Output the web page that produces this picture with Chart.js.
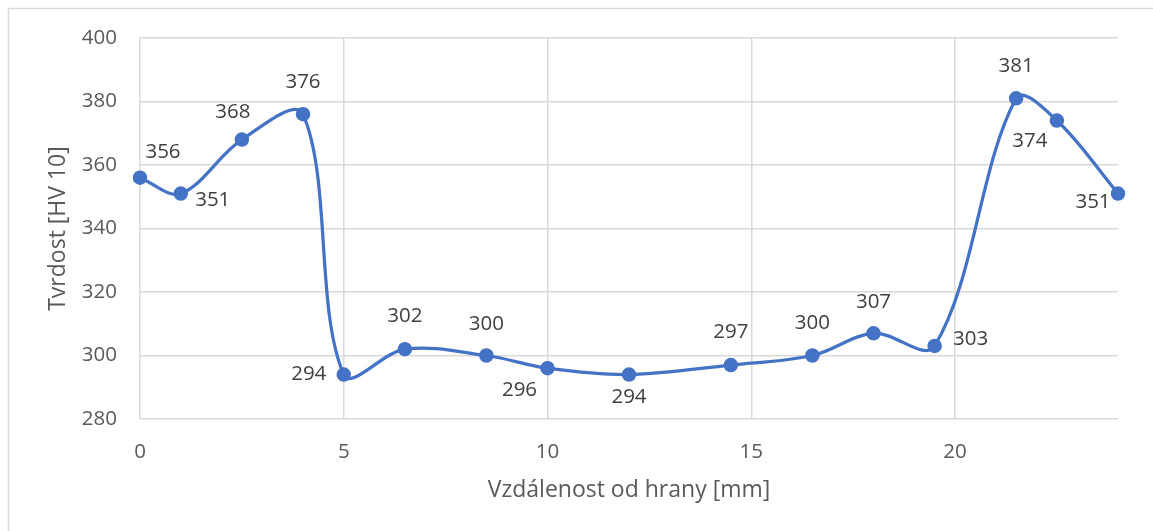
<!DOCTYPE html>
<html>
<head>
<meta charset="utf-8">
<script src="https://cdn.jsdelivr.net/npm/chart.js@4/dist/chart.umd.min.js"></script>
<style>
  html, body { margin: 0; padding: 0; background: #fff; }
  #wrap { width: 1153px; height: 531px; position: relative; }
</style>
</head>
<body>
<div id="wrap"><canvas id="tvrdostChart" width="1153" height="531"></canvas></div>
<script>
// vzdálenost měřicího bodu od hrany [mm]
const vzdalenost = [0, 1, 2.5, 4, 5, 6.5, 8.5, 10, 12, 14.5, 16.5, 18, 19.5, 21.5, 22.5, 24];
// naměřená tvrdost HV 10
const tvrdost = [356, 351, 368, 376, 294, 302, 300, 296, 294, 297, 300, 307, 303, 381, 374, 351];
// osy
const osaX = { min: 0, max: 24, krok: 5 };
const osaY = { min: 280, max: 400, krok: 20 };

// posun popisků hodnot vůči bodu [dx, dy]
const posunPopisku = [
  [23, -26], [32, 7], [-9, -27], [0, -32], [-35, 0], [0, -33], [0, -31], [-28, 22],
  [0, 23], [0, -33], [0, -32], [0, -31], [36, -7], [0, -32], [-27, 21], [-25, 9]
];

const font = "'Open Sans', 'Liberation Sans', sans-serif";

// rámeček kolem grafu
const ramecek = {
  id: 'ramecek',
  beforeDraw(chart) {
    const c = chart.ctx;
    c.save();
    c.fillStyle = '#fff';
    c.fillRect(0, 0, chart.width, chart.height);
    c.strokeStyle = '#d9d9d9';
    c.lineWidth = 1.5;
    c.beginPath();
    c.moveTo(8.5, chart.height);
    c.lineTo(8.5, 8.5);
    c.lineTo(chart.width, 8.5);
    c.stroke();
    c.restore();
  }
};

// popisky hodnot u bodů
const popisky = {
  id: 'popisky',
  afterDatasetsDraw(chart) {
    const c = chart.ctx;
    const meta = chart.getDatasetMeta(0);
    c.save();
    c.font = '20.5px ' + font;
    c.fillStyle = '#404040';
    c.textAlign = 'center';
    c.textBaseline = 'middle';
    meta.data.forEach((bod, i) => {
      const [dx, dy] = posunPopisku[i];
      c.fillText(String(tvrdost[i]), bod.x + dx, bod.y + dy);
    });
    c.restore();
  }
};

const ctx = document.getElementById('tvrdostChart').getContext('2d');
new Chart(ctx, {
  type: 'line',
  data: {
    datasets: [{
      data: vzdalenost.map((x, i) => ({ x: x, y: tvrdost[i] })),
      borderColor: '#4472c4',
      backgroundColor: '#4472c4',
      borderWidth: 3.25,
      pointRadius: 6.5,
      pointBorderWidth: 1.5,
      pointBackgroundColor: '#4472c4',
      pointBorderColor: '#4472c4',
      tension: 0.35,
      clip: false
    }]
  },
  options: {
    responsive: false,
    animation: false,
    layout: { padding: { left: 0, right: 35, top: 38, bottom: 0 } },
    plugins: { legend: { display: false }, tooltip: { enabled: false } },
    scales: {
      x: {
        type: 'linear',
        min: osaX.min,
        max: osaX.max,
        afterFit(scale) { scale.height = 112; },
        ticks: { stepSize: osaX.krok, includeBounds: false, padding: 21, color: '#595959', font: { family: font, size: 20.5 } },
        grid: { color: '#d9d9d9', lineWidth: 1.5, drawTicks: false },
        border: { display: false },
        title: { display: true, text: 'Vzdálenost od hrany [mm]', color: '#595959', font: { family: font, size: 23 }, padding: { top: 0, bottom: 27 } }
      },
      y: {
        min: osaY.min,
        max: osaY.max,
        afterFit(scale) { scale.width = 140; },
        ticks: { stepSize: osaY.krok, padding: 23, color: '#595959', font: { family: font, size: 20.5 } },
        grid: { color: '#d9d9d9', lineWidth: 1.5, drawTicks: false },
        border: { display: false },
        title: { display: true, text: 'Tvrdost [HV 10]', color: '#595959', font: { family: font, size: 23 }, padding: { top: 45, bottom: 0 } }
      }
    }
  },
  plugins: [ramecek, popisky]
});
</script>
</body>
</html>
